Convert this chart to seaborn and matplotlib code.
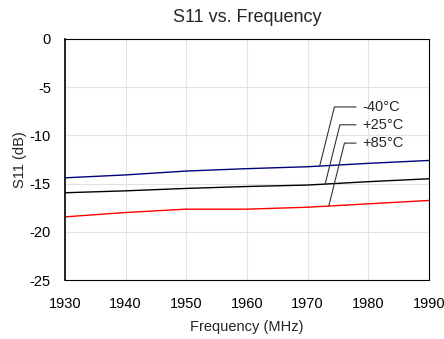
import pandas as pd
import matplotlib
matplotlib.use('Agg')
import matplotlib.pyplot as plt
import seaborn as sns

# ---- data ----
freq = [1930, 1940, 1950, 1960, 1970, 1980, 1990]
s11_m40 = [-14.4, -14.1, -13.7, -13.45, -13.25, -12.9, -12.6]
s11_p25 = [-15.95, -15.75, -15.5, -15.3, -15.15, -14.8, -14.5]
s11_p85 = [-18.45, -18.0, -17.65, -17.65, -17.45, -17.1, -16.75]
labels = ['-40°C', '+25°C', '+85°C']
colors = ['#000080', '#000000', '#ff0000']

df = pd.DataFrame({
    'Frequency': freq * 3,
    'S11': s11_m40 + s11_p25 + s11_p85,
    'Temp': [labels[0]] * 7 + [labels[1]] * 7 + [labels[2]] * 7,
})

sns.set_theme(style='whitegrid')
plt.rcParams['font.family'] = ['Liberation Sans', 'DejaVu Sans']
plt.rcParams['axes.unicode_minus'] = False

fig, ax = plt.subplots(figsize=(4.44, 3.39), dpi=100)
fig.subplots_adjust(left=0.146, right=0.966, top=0.885, bottom=0.174)

sns.lineplot(data=df, x='Frequency', y='S11', hue='Temp', palette=colors,
             linewidth=1.0, legend=False, ax=ax)

# leader-line labels
label_pos = [(1979, -7.05), (1979, -8.9), (1979, -10.8)]
point_x = [1972.0, 1972.9, 1973.5]
series = [s11_m40, s11_p25, s11_p85]
for lab, (tx, ty), px, s in zip(labels, label_pos, point_x, series):
    # value on the series where the leader ends
    py = pd.Series(s, index=freq).reindex(sorted(set(freq + [px]))).interpolate('index')[px]
    ax.annotate(lab, xy=(px, py), xytext=(tx, ty), ha='left', va='center',
                fontsize=10.5,
                arrowprops=dict(arrowstyle='-', color='#333333', lw=0.8,
                                relpos=(0, 0.5), shrinkA=2, shrinkB=0,
                                connectionstyle='angle,angleA=0,angleB=76,rad=0'))

ax.set_xlim(1930, 1990)
ax.set_ylim(-25, 0)
ax.set_xticks(range(1930, 1991, 10))
ax.set_yticks(range(-25, 1, 5))
ax.grid(True, color='#e3e3e3', linewidth=0.8)
for sp in ax.spines.values():
    sp.set_color('black')
    sp.set_linewidth(0.8)
ax.spines['left'].set_linewidth(1.2)
ax.tick_params(axis='x', length=0, labelsize=10.5, colors='black', pad=12)
ax.tick_params(axis='y', length=0, labelsize=10.5, colors='black', pad=10)

ax.set_title('S11 vs. Frequency', fontsize=13, pad=12)
ax.set_xlabel('Frequency (MHz)', fontsize=10.5, labelpad=7)
ax.set_ylabel('S11 (dB)', fontsize=10.5, labelpad=2)

plt.savefig('out.png', dpi=100)
